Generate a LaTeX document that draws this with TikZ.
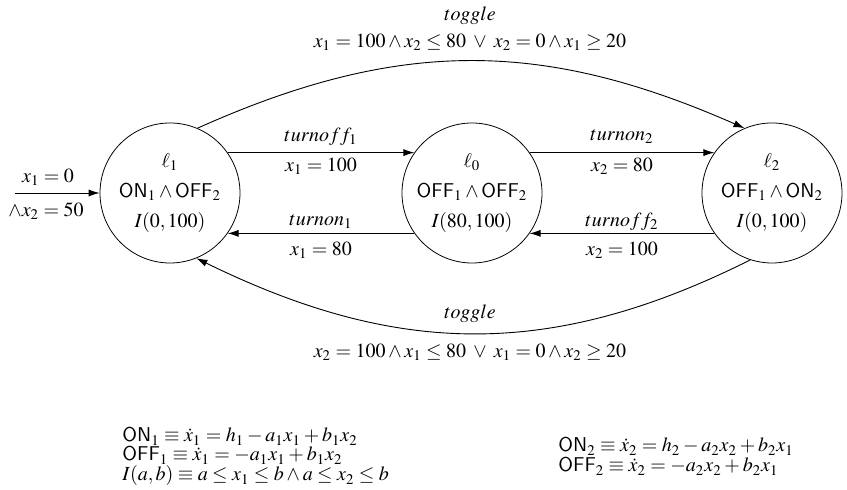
\documentclass[tikz,border=0pt]{standalone}
\usepackage{mathptmx}
\usepackage[scaled=0.92]{helvet}
\usetikzlibrary{arrows.meta}
\newcommand{\ONs}{\mathsf{ON}}
\newcommand{\OFFs}{\mathsf{OFF}}
\begin{document}
\begin{tikzpicture}[x=0.5pt,y=-0.5pt,
  state/.style={draw,circle,line width=0.4pt,minimum size=70pt,inner sep=0pt,align=center,font=\normalsize},
  edge/.style={line width=0.45pt,-{Latex[length=5.5pt,width=3.6pt]}},
  lbl/.style={inner sep=0pt,font=\normalsize},
  leg/.style={inner sep=0pt,font=\normalsize,anchor=base west}]
\useasboundingbox (0,0) rectangle (847,490);
\node[state] (l1) at (170,193) {$\ell_1$\\[3pt]$\ONs_1\wedge\OFFs_2$\\[3pt]$I(0,100)$};
\node[state] (l0) at (472,193) {$\ell_0$\\[3pt]$\OFFs_1\wedge\OFFs_2$\\[3pt]$I(80,100)$};
\node[state] (l2) at (772,193) {$\ell_2$\\[3pt]$\OFFs_1\wedge\ONs_2$\\[3pt]$I(0,100)$};
\coordinate (init) at (15,193);
\draw[edge] (init) -- (l1.west);
\node[lbl] (i1) at (48,177) {$x_1=0$};
\node[lbl] (i2) at (46,211) {$\wedge x_2=50$};
\draw[edge] (l1.35) -- (l0.145);
\draw[edge] (l0.215) -- (l1.325);
\draw[edge] (l0.35) -- (l2.145);
\draw[edge] (l2.215) -- (l0.325);
\node[lbl] (a1) at (321,137) {$turnoff_1$};
\node[lbl] (a2) at (321,166) {$x_1=100$};
\node[lbl] (b1) at (321,222) {$turnon_1$};
\node[lbl] (b2) at (321,250) {$x_1=80$};
\node[lbl] (c1) at (622,137) {$turnon_2$};
\node[lbl] (c2) at (622,166) {$x_2=80$};
\node[lbl] (d1) at (622,222) {$turnoff_2$};
\node[lbl] (d2) at (622,250) {$x_2=100$};
\draw[edge] (l1.67) .. controls +(203,-91) and +(-200,-88) .. (l2.113);
\draw[edge] (l2.252) .. controls +(-200,100) and +(200,98) .. (l1.292);
\node[lbl] (t1) at (470,16) {$toggle$};
\node[lbl] (t2) at (470,42) {$x_1=100\wedge x_2\le 80\;\vee\; x_2=0\wedge x_1\ge 20$};
\node[lbl] (u1) at (470,314) {$toggle$};
\node[lbl] (u2) at (470,352) {$x_2=100\wedge x_1\le 80\;\vee\; x_1=0\wedge x_2\ge 20$};
\node[leg] (la) at (122,442) {$\ONs_1\equiv\dot{x}_1=h_1-a_1x_1+b_1x_2$};
\node[leg] (lb) at (122,461) {$\OFFs_1\equiv\dot{x}_1=-a_1x_1+b_1x_2$};
\node[leg] (lc) at (122,481) {$I(a,b)\equiv a\le x_1\le b\wedge a\le x_2\le b$};
\node[leg] (ld) at (558,452) {$\ONs_2\equiv\dot{x}_2=h_2-a_2x_2+b_2x_1$};
\node[leg] (le) at (558,472) {$\OFFs_2\equiv\dot{x}_2=-a_2x_2+b_2x_1$};
\end{tikzpicture}
\end{document}
